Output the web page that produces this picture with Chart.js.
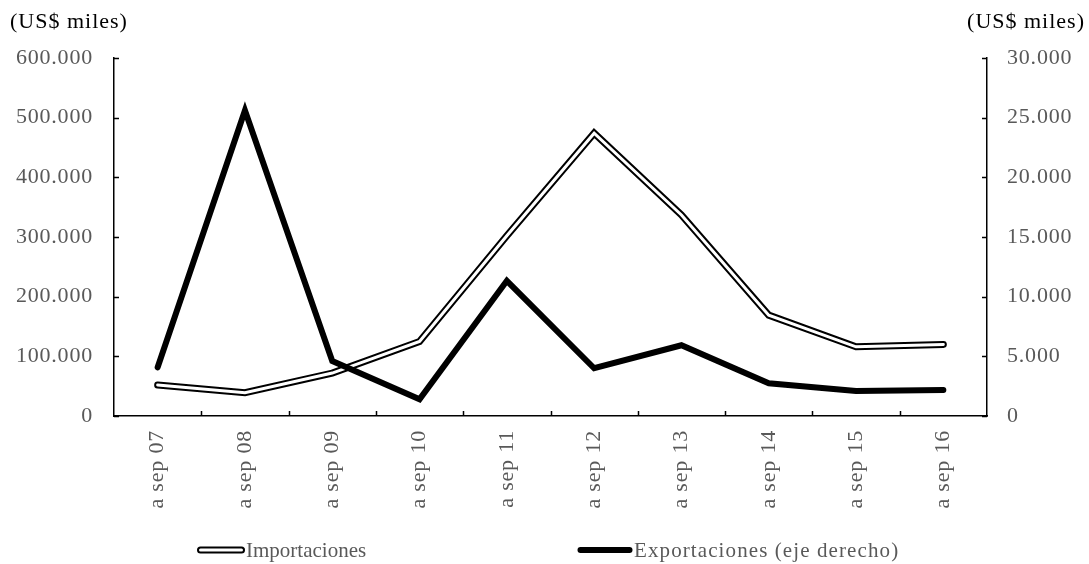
<!DOCTYPE html>
<html>
<head>
<meta charset="utf-8">
<script src="https://cdn.jsdelivr.net/npm/chart.js@4"></script>
<style>
  html, body { margin: 0; padding: 0; background: #fff; }
  #wrap { width: 1089px; height: 564px; }
</style>
</head>
<body>
<div id="wrap"><canvas id="myChart" width="1089" height="564"></canvas></div>
<script>
// Data
const categories = ['a sep 07', 'a sep 08', 'a sep 09', 'a sep 10', 'a sep 11',
                    'a sep 12', 'a sep 13', 'a sep 14', 'a sep 15', 'a sep 16'];
const importaciones = [52000, 39000, 72000, 125000, 302000, 474000, 337000, 169000, 116000, 120000];
const exportaciones = [4080, 25600, 4600, 1400, 11330, 4000, 5930, 2740, 2100, 2180];
const seriesNames = ['Importaciones', 'Exportaciones (eje derecho)'];
const leftTicks = ['0', '100.000', '200.000', '300.000', '400.000', '500.000', '600.000'];
const rightTicks = ['0', '5.000', '10.000', '15.000', '20.000', '25.000', '30.000'];
const unitLabel = '(US$ miles)';

const FONT = '"Liberation Serif", "Times New Roman", serif';
const GREY = '#595959';

// letter spacing like the original rendering
const spacing = {
  id: 'spacing',
  beforeUpdate(chart) { chart.ctx.letterSpacing = '0.8px'; },
  beforeDraw(chart) { chart.ctx.letterSpacing = '0.8px'; }
};

// short ticks pointing into the plot, as in the original
const innerTicks = {
  id: 'innerTicks',
  afterDraw(chart) {
    const ctx = chart.ctx;
    const { y, y1, x } = chart.scales;
    const len = 5;
    ctx.save();
    ctx.strokeStyle = '#000';
    ctx.lineWidth = 1.5;
    ctx.beginPath();
    y.ticks.forEach((t, i) => {
      const py = Math.round(y.getPixelForTick(i)) + 0.5;
      ctx.moveTo(y.right, py); ctx.lineTo(y.right + len, py);
    });
    y1.ticks.forEach((t, i) => {
      const py = Math.round(y1.getPixelForTick(i)) + 0.5;
      ctx.moveTo(y1.left, py); ctx.lineTo(y1.left - len, py);
    });
    for (let i = 1; i < x.ticks.length; i++) {
      const px = Math.round((x.getPixelForTick(i - 1) + x.getPixelForTick(i)) / 2) + 0.5;
      ctx.moveTo(px, x.top); ctx.lineTo(px, x.top - len);
    }
    ctx.stroke();
    ctx.restore();
  }
};

// unit labels above both axes and the legend at the bottom
const extras = {
  id: 'extras',
  afterDraw(chart) {
    const ctx = chart.ctx;
    ctx.save();
    ctx.letterSpacing = '1px';
    ctx.font = '22px ' + FONT;
    ctx.fillStyle = '#000';
    ctx.textBaseline = 'middle';
    ctx.textAlign = 'left';
    ctx.fillText(unitLabel, 10, 22);
    ctx.textAlign = 'right';
    ctx.fillText(unitLabel, chart.width - 4, 22);

    // legend
    const ly = 550;
    const items = [
      { x: 197, w: 48, label: seriesNames[0], dbl: true, sp: '0px' },
      { x: 577, w: 56, label: seriesNames[1], dbl: false, sp: '1.1px' }
    ];
    ctx.font = '21px ' + FONT;
    ctx.lineCap = 'round';
    items.forEach(it => {
      ctx.beginPath();
      ctx.moveTo(it.x + 3.5, ly); ctx.lineTo(it.x + it.w - 3.5, ly);
      ctx.strokeStyle = '#000';
      ctx.lineWidth = it.dbl ? 7 : 6;
      ctx.stroke();
      if (it.dbl) {
        ctx.strokeStyle = '#fff';
        ctx.lineWidth = 3;
        ctx.stroke();
      }
      ctx.letterSpacing = it.sp;
      ctx.fillStyle = GREY;
      ctx.textAlign = 'left';
      ctx.fillText(it.label, it.x + it.w + 1, ly + 1);
    });
    ctx.restore();
  }
};

new Chart(document.getElementById('myChart'), {
  type: 'line',
  data: {
    labels: categories,
    datasets: [
      {
        label: seriesNames[1],
        data: exportaciones,
        yAxisID: 'y1',
        borderColor: '#000',
        borderWidth: 6,
        order: 0
      },
      {
        label: seriesNames[0],
        data: importaciones,
        yAxisID: 'y',
        borderColor: '#fff',
        borderWidth: 3,
        order: 1
      },
      {
        label: seriesNames[0],
        data: importaciones,
        yAxisID: 'y',
        borderColor: '#000',
        borderWidth: 7,
        order: 2
      }
    ]
  },
  options: {
    responsive: false,
    animation: false,
    devicePixelRatio: 1,
    layout: { padding: { top: 58, left: 0, right: 0, bottom: 48 } },
    elements: {
      point: { radius: 0, hoverRadius: 0 },
      line: { tension: 0, fill: false, borderJoinStyle: 'miter', borderCapStyle: 'round' }
    },
    plugins: {
      legend: { display: false },
      tooltip: { enabled: false },
      title: { display: false }
    },
    scales: {
      x: {
        offset: true,
        grid: { display: false, drawTicks: false },
        border: { display: true, color: '#000', width: 1.5 },
        afterFit: s => { s.height = 100; },
        ticks: {
          color: GREY,
          font: { family: FONT, size: 22 },
          minRotation: 90,
          maxRotation: 90,
          padding: 14,
          autoSkip: false
        }
      },
      y: {
        position: 'left',
        min: 0,
        max: 600000,
        grid: { display: false, drawTicks: false },
        border: { display: true, color: '#000', width: 1.5 },
        afterFit: s => { s.width = 114; },
        ticks: {
          stepSize: 100000,
          color: GREY,
          font: { family: FONT, size: 22 },
          padding: 21,
          callback: (v, i) => leftTicks[i]
        }
      },
      y1: {
        position: 'right',
        min: 0,
        max: 30000,
        grid: { display: false, drawTicks: false },
        border: { display: true, color: '#000', width: 1.5 },
        afterFit: s => { s.width = 102; },
        ticks: {
          stepSize: 5000,
          color: GREY,
          font: { family: FONT, size: 22 },
          padding: 20,
          callback: (v, i) => rightTicks[i]
        }
      }
    }
  },
  plugins: [spacing, innerTicks, extras]
});
</script>
</body>
</html>
